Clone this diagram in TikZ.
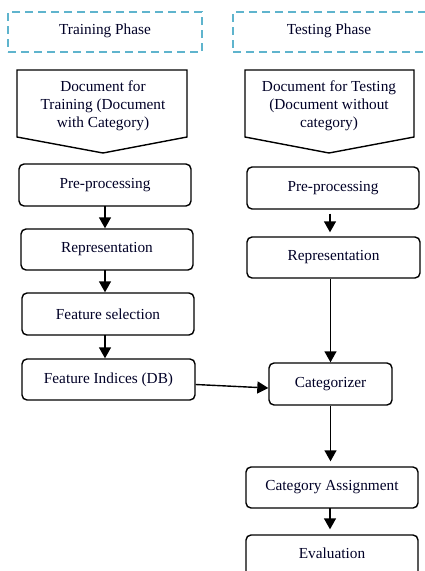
\documentclass[tikz,border=0pt]{standalone}
\usepackage{fontspec}
\setmainfont{Liberation Serif}
\usetikzlibrary{arrows.meta}
\begin{document}
\begin{tikzpicture}[x=1pt,y=-1pt,
  every node/.style={font=\fontsize{15.3}{18}\selectfont, text=black!85!blue},
  procbox/.style={draw=black, line width=1.4pt, rounded corners=5pt, minimum height=42pt, inner sep=0pt},
  phasebox/.style={draw={rgb,255:red,95;green,180;blue,205}, line width=1.8pt, dash pattern=on 8pt off 5pt, minimum height=40pt, inner sep=0pt},
  docshape/.style={draw=black, line width=1.4pt, line join=miter},
  flow/.style={draw=black, line width=1.4pt, -{Triangle[width=12pt,length=11pt]}}
]
\useasboundingbox (0,0) rectangle (424,571);
% phase headers
\node[phasebox, minimum width=194pt] (trp) at (105,32) {};
\node (trpt) at (105,31) {Training Phase};
\node[phasebox, minimum width=200pt] (tep) at (333,32) {};
\node (tept) at (329,31) {Testing Phase};
% document shapes
\draw[docshape] (17,70) -- (187,70) -- (187,137) -- (103,153) -- (17,137) -- cycle;
\node[align=center] (dtr) at (103,106) {Document for\\Training (Document\\with Category)};
\draw[docshape] (245,70) -- (414,70) -- (414,137) -- (329,153) -- (245,137) -- cycle;
\node[align=center] (dte) at (329,106) {Document for Testing\\(Document without\\category)};
% training column
\node[procbox, minimum width=172pt] (pl) at (105,185) {Pre-processing};
\node[procbox, minimum width=172pt, minimum height=41pt] (rl) at (107,249.5) {Representation};
\node[procbox, minimum width=172pt] (fs) at (108,314) {Feature selection};
\node[procbox, minimum width=173pt, minimum height=41pt] (fi) at (108.5,379.5) {Feature Indices (DB)};
% testing column
\node[procbox, minimum width=172pt] (pr) at (333,188) {Pre-processing};
\node[procbox, minimum width=173pt, minimum height=41pt] (rr) at (333.5,257.5) {Representation};
\node[procbox, minimum width=123pt] (cat) at (330.5,384) {Categorizer};
\node[procbox, minimum width=172pt, minimum height=41pt] (ca) at (332,487.5) {Category Assignment};
\node[procbox, minimum width=172pt, minimum height=44pt] (ev) at (332,557) {};
\node (evt) at (332,553) {Evaluation};
% connectors
\draw[flow] (105,206) coordinate (a1) -- (a1 |- rl.north);
\draw[flow] (105,270) coordinate (a2) -- (a2 |- fs.north);
\draw[flow] (105,335) coordinate (a3) -- (a3 |- fi.north);
\draw[flow] ([yshift=-4pt]pr.south -| 330,0) coordinate (b1) -- ([yshift=4pt]b1 |- rr.north);
\draw[flow] (cat.north |- rr.south) -- (cat.north);
\draw[flow] ([yshift=-5pt]fi.east) -- ([yshift=-4pt]cat.west);
\draw[flow] (cat.south) -- ([yshift=5pt]cat.south |- ca.north);
\draw[flow] (330,508) coordinate (b2) -- ([yshift=5pt]b2 |- ev.north);
\end{tikzpicture}
\end{document}
